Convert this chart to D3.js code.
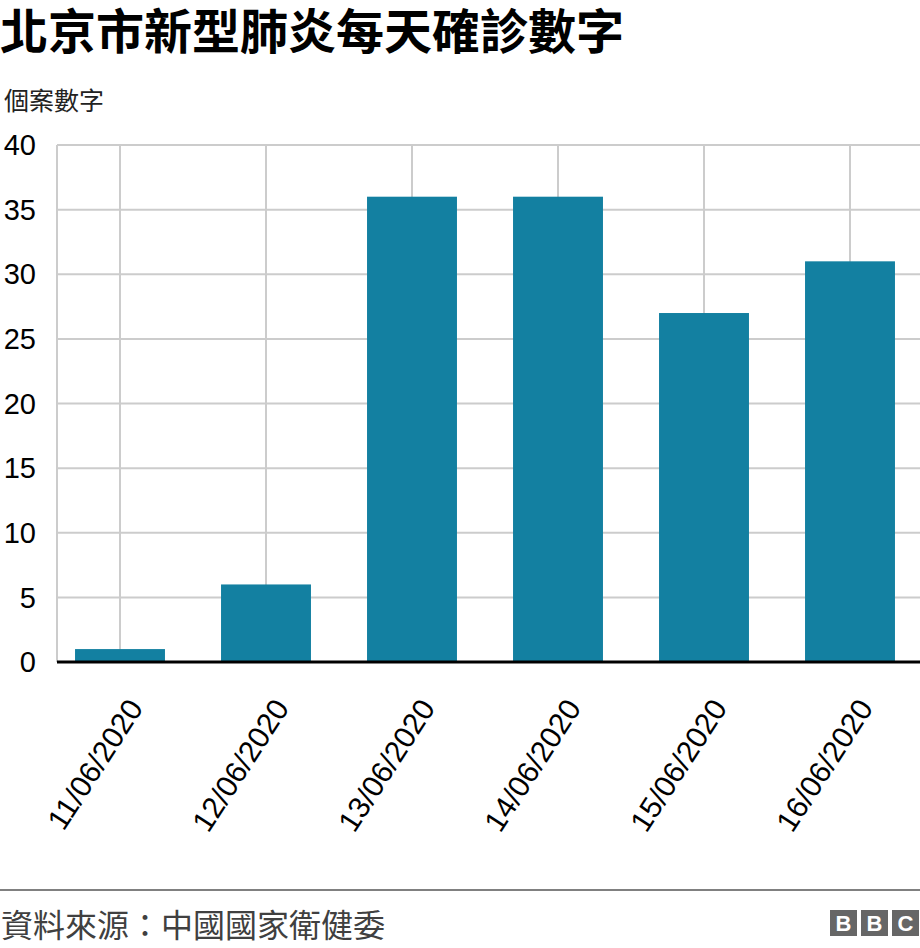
<!DOCTYPE html>
<html><head><meta charset="utf-8">
<script src="https://cdn.jsdelivr.net/npm/d3@7"></script>
<style>body{margin:0;background:#fff}svg{display:block}</style>
</head><body>
<script>
const categories = ["11/06/2020","12/06/2020","13/06/2020","14/06/2020","15/06/2020","16/06/2020"];
const values = [1, 6, 36, 36, 27, 31];
const yTicks = [0, 5, 10, 15, 20, 25, 30, 35, 40];
const title = "北京市新型肺炎每天確診數字";
const yLabel = "個案數字";
const source = "資料來源：中國國家衛健委";

const W = 920, H = 948;
const svg = d3.select("body").append("svg").attr("width", W).attr("height", H);
const cjk = "'Noto Sans CJK TC','Noto Sans CJK SC',sans-serif";
const latin = "'Liberation Sans',Arial,sans-serif";

const x = d3.scaleBand().domain(categories).range([47, 923]).paddingInner(0.384).paddingOuter(0.192);
const y = d3.scaleLinear().domain([0, 40]).range([662, 145]);
const left = 57, right = 920;

// title
svg.append("text").attr("x", 0).attr("y", 49).attr("font-family", cjk).attr("font-weight", 700)
  .attr("font-size", 48).attr("fill", "#000").text(title);
svg.append("text").attr("x", 4).attr("y", 110).attr("font-family", cjk)
  .attr("font-size", 25).attr("fill", "#222").text(yLabel);

// horizontal grid
svg.append("g").selectAll("line").data(yTicks).join("line")
  .attr("x1", left).attr("x2", right).attr("y1", d => y(d)).attr("y2", d => y(d))
  .attr("stroke", "#cccccc").attr("stroke-width", 2);
// vertical grid
svg.append("g").selectAll("line").data(categories).join("line")
  .attr("x1", d => x(d) + x.bandwidth() / 2).attr("x2", d => x(d) + x.bandwidth() / 2)
  .attr("y1", y(40)).attr("y2", y(0)).attr("stroke", "#cccccc").attr("stroke-width", 2);
svg.append("line").attr("x1", left).attr("x2", left).attr("y1", y(40)).attr("y2", y(0))
  .attr("stroke", "#cccccc").attr("stroke-width", 2);

// y tick labels
svg.append("g").selectAll("text").data(yTicks).join("text")
  .attr("x", 36).attr("y", d => y(d)).attr("dy", "0.35em").attr("text-anchor", "end")
  .attr("font-family", latin).attr("font-size", 29).attr("fill", "#000").text(d => d);

// bars
svg.append("g").selectAll("rect").data(values).join("rect")
  .attr("x", (d, i) => x(categories[i])).attr("width", x.bandwidth())
  .attr("y", d => y(d)).attr("height", d => y(0) - y(d)).attr("fill", "#1380A1");

// baseline
svg.append("line").attr("x1", left).attr("x2", right).attr("y1", y(0)).attr("y2", y(0))
  .attr("stroke", "#000").attr("stroke-width", 3);

// x labels
svg.append("g").selectAll("text").data(categories).join("text")
  .attr("transform", d => `translate(${x(d) + x.bandwidth() / 2 + 24},${y(0) + 46}) rotate(-57)`)
  .attr("text-anchor", "end").attr("font-family", latin).attr("font-size", 30).attr("fill", "#000")
  .text(d => d);

// footer
svg.append("line").attr("x1", 0).attr("x2", W).attr("y1", 890).attr("y2", 890)
  .attr("stroke", "#808080").attr("stroke-width", 2);
svg.append("text").attr("x", 1).attr("y", 937).attr("font-family", cjk)
  .attr("font-size", 32).attr("fill", "#404040").text(source);

// BBC logo
const logo = svg.append("g");
["B", "B", "C"].forEach((l, i) => {
  const bx = 830 + i * 31;
  logo.append("rect").attr("x", bx).attr("y", 910).attr("width", 27).attr("height", 26).attr("fill", "#666");
  logo.append("text").attr("x", bx + 13.5).attr("y", 931).attr("text-anchor", "middle")
    .attr("font-family", latin).attr("font-weight", 700).attr("font-size", 22).attr("fill", "#fff").text(l);
});
</script>
</body></html>
